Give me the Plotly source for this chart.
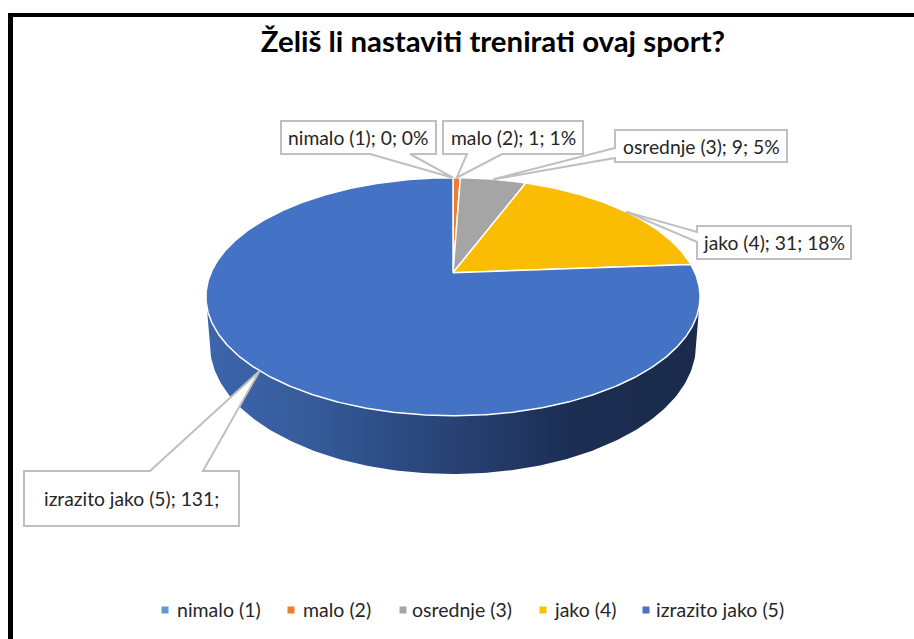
import math
import plotly.graph_objects as go

# --- data ---
categories = ["nimalo (1)", "malo (2)", "osrednje (3)", "jako (4)", "izrazito jako (5)"]
values = [0, 1, 9, 31, 131]
show_percent = [True, True, True, True, False]
slice_colors = ["#4472C4", "#ED7D31", "#A5A5A5", "#FBBC04", "#4472C4"]
legend_colors = ["#5B9BD5", "#ED7D31", "#A5A5A5", "#FFC000", "#4472C4"]
title_text = "Želiš li nastaviti trenirati ovaj sport?"

# --- layout geometry (pixel space of the invisible axes) ---
W, H = 914, 639
APEX = (453.0, 272.7)
A, B, K = 242.0, 114.2, 0.2016      # perspective projection of the pie disc
TOP_CY, TOP_RY, TOP_RX = 296.7, 119.0, 247.0
BOT_CY, BOT_RY, BOT_RX = 345.0, 129.0, 243.0
FONT = "Lato"
BOX_LINE = "#BFBFBF"
LABEL_SIZE = 19.3
LEGEND_SIZE = 19.5

# box: x0, x1, y0, y1, wedge side, wedge start, wedge end
callouts = [
    (281, 436, 121, 154, "bottom", 370, 410),
    (443, 583, 121, 154, "bottom", 467, 502),
    (615, 787, 130, 162, "left", 148, 158),
    (697, 851, 226, 259, "left", 232, 242),
    (24, 239, 471, 526, "top", 150, 203),
]
legend_marker_x = [165, 291, 403, 543, 646]
legend_text_x = [177, 303, 412, 554, 656]
legend_y = 610


def project(theta):
    u, v = math.sin(theta), math.cos(theta)
    d = 1 + K * v
    return APEX[0] + A * u / d, APEX[1] - B * v / d


total = sum(values)
fig = go.Figure()

# side wall of the disc, from the visible front half
wall_x, wall_y = [], []
for i in range(0, 181):
    p = math.pi * i / 180
    wall_x.append(APEX[0] - TOP_RX * math.cos(p))
    wall_y.append(TOP_CY + TOP_RY * math.sin(p))
for i in range(180, -1, -1):
    p = math.pi * i / 180
    wall_x.append(APEX[0] - BOT_RX * math.cos(p))
    wall_y.append(BOT_CY + BOT_RY * math.sin(p))
fig.add_trace(go.Scatter(
    x=wall_x, y=wall_y, mode="lines", line=dict(width=0), fill="toself",
    fillgradient=dict(
        type="horizontal",
        colorscale=[[0.0, "#3C65AD"], [0.2, "#365C9B"], [0.4, "#2C4A80"],
                    [0.58, "#243B68"], [0.75, "#1B2D51"], [1.0, "#1A2B4C"]],
    ),
    showlegend=False, hoverinfo="skip",
))

# top faces
cum = 0
tips = []
for name, val, col in zip(categories, values, slice_colors):
    t0 = 2 * math.pi * cum / total
    t1 = 2 * math.pi * (cum + val) / total
    n = max(2, int(val * 4))
    pts = [project(t0 + (t1 - t0) * i / n) for i in range(n + 1)]
    xs = [APEX[0]] + [p[0] for p in pts] + [APEX[0]]
    ys = [APEX[1]] + [p[1] for p in pts] + [APEX[1]]
    fig.add_trace(go.Scatter(
        x=xs, y=ys, mode="lines", fill="toself", fillcolor=col,
        line=dict(color="white", width=1.5), name=name,
        showlegend=False, hoverinfo="skip",
    ))
    tips.append(project((t0 + t1) / 2))
    cum += val

shapes = []
annotations = []

# legend built from marker + text, Office-style spacing
for name, col, mx, tx in zip(categories, legend_colors, legend_marker_x, legend_text_x):
    fig.add_trace(go.Scatter(
        x=[mx], y=[legend_y], mode="markers", name=name,
        marker=dict(symbol="square", size=7, color=col),
        showlegend=False, hoverinfo="skip", cliponaxis=False,
    ))
    annotations.append(dict(x=tx, y=legend_y - 1, xref="x", yref="y", xanchor="left",
                            xshift=-2, text=name, showarrow=False,
                            font=dict(family=FONT, size=LEGEND_SIZE, color="#262626")))

# callout boxes with wedge pointers
for c, tip, name, val, pct in zip(callouts, tips, categories, values, show_percent):
    x0, x1, y0, y1, side, a, b = c
    tx, ty = tip
    if side == "bottom":
        pts = [(x0, y0), (x1, y0), (x1, y1), (b, y1), (tx, ty), (a, y1), (x0, y1)]
    elif side == "top":
        pts = [(x0, y0), (a, y0), (tx, ty), (b, y0), (x1, y0), (x1, y1), (x0, y1)]
    else:
        pts = [(x0, y0), (x1, y0), (x1, y1), (x0, y1), (x0, b), (tx, ty), (x0, a)]
    path = "M " + " L ".join(f"{px:.1f},{py:.1f}" for px, py in pts) + " Z"
    shapes.append(dict(type="path", path=path, xref="x", yref="y", fillcolor="white",
                       line=dict(color=BOX_LINE, width=2), layer="above"))
    text = f"{name}; {val};"
    if pct:
        text += f" {round(100 * val / total)}%"
    annotations.append(dict(x=(x0 + x1) / 2, y=(y0 + y1) / 2, xref="x", yref="y",
                            text=text, showarrow=False,
                            font=dict(family=FONT, size=LABEL_SIZE, color="#262626")))

# window frame: left and top rules
shapes.append(dict(type="rect", xref="x", yref="y", x0=8, x1=13, y0=13, y1=639,
                   fillcolor="black", line=dict(width=0), layer="above"))
shapes.append(dict(type="rect", xref="x", yref="y", x0=8, x1=914, y0=13, y1=17,
                   fillcolor="black", line=dict(width=0), layer="above"))

fig.update_layout(
    width=W, height=H, margin=dict(l=0, r=0, t=0, b=0),
    paper_bgcolor="white", plot_bgcolor="white", showlegend=False,
    title=dict(text=f"<b>{title_text}</b>", x=493 / W, xanchor="center", xref="paper",
               y=1 - 42 / H, yanchor="middle", yref="paper",
               font=dict(family=FONT, size=29.4, color="black")),
    xaxis=dict(range=[0, W], visible=False, fixedrange=True),
    yaxis=dict(range=[H, 0], visible=False, fixedrange=True),
    shapes=shapes, annotations=annotations,
)
fig.write_html("out.html", config={"displayModeBar": False},
               post_script="document.body.style.margin='0';document.body.style.overflow='hidden';")
